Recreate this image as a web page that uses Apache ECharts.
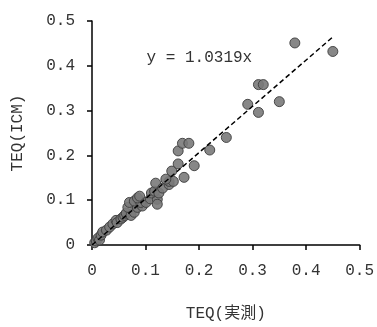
<!DOCTYPE html>
<html>
<head>
<meta charset="utf-8">
<script src="https://cdn.jsdelivr.net/npm/echarts@6/dist/echarts.min.js"></script>
<style>
  html, body { margin: 0; padding: 0; background: #fff; }
  #chart { width: 377px; height: 327px; }
</style>
</head>
<body>
<div id="chart"></div>
<script>
// 実測 vs ICM の TEQ
const measured = [0.005, 0.008, 0.011, 0.014, 0.017, 0.020, 0.027, 0.033, 0.039, 0.045,
  0.047, 0.054, 0.058, 0.061, 0.064, 0.073, 0.079, 0.067, 0.085, 0.094,
  0.070, 0.079, 0.091, 0.085, 0.089, 0.101, 0.109, 0.122, 0.122, 0.111,
  0.117, 0.125, 0.119, 0.132, 0.144, 0.144, 0.152, 0.138, 0.149, 0.172,
  0.161, 0.191, 0.161, 0.169, 0.181, 0.220, 0.251, 0.291, 0.311, 0.311,
  0.320, 0.350, 0.379, 0.450]
const icm = [0.005, 0.009, 0.015, 0.011, 0.022, 0.029, 0.033, 0.040, 0.047, 0.055,
  0.050, 0.058, 0.062, 0.066, 0.071, 0.066, 0.073, 0.084, 0.084, 0.087,
  0.095, 0.098, 0.095, 0.105, 0.109, 0.095, 0.103, 0.102, 0.091, 0.116,
  0.120, 0.116, 0.138, 0.127, 0.135, 0.142, 0.142, 0.147, 0.165, 0.151,
  0.181, 0.177, 0.210, 0.227, 0.227, 0.212, 0.240, 0.314, 0.296, 0.358,
  0.358, 0.320, 0.451, 0.432]
const slope = 1.0319
const trendX = [0, 0.45]
const axisTicks = [0, 0.1, 0.2, 0.3, 0.4, 0.5]
const equationText = "y = 1.0319x"
const equationAt = [0.102, 0.419]

const points = measured.map((x, i) => [x, icm[i]])
const trend = trendX.map(x => [x, x * slope])

const font = "'Liberation Mono', 'Noto Sans CJK JP', monospace"
const axisCommon = {
  type: "value",
  min: 0,
  max: 0.5,
  interval: 0.1,
  splitLine: { show: false },
  axisLine: { show: true, onZero: false, lineStyle: { color: "#000", width: 1.5 } },
  axisTick: { show: true, inside: false, length: 5, lineStyle: { color: "#000", width: 1.5 } },
  nameLocation: "middle",
  nameTextStyle: { fontFamily: font, fontSize: 16, color: "#333" }
}

const myChart = echarts.init(document.getElementById("chart"), null, { renderer: "canvas" })
myChart.setOption({
  animation: false,
  grid: { left: 92, right: 15, top: 21, bottom: 77 },
  xAxis: {
    ...axisCommon,
    name: "TEQ(実測)",
    nameGap: 61,
    axisLabel: {
      margin: 18, fontFamily: font, fontSize: 16, color: "#333",
      formatter: v => axisTicks.includes(+v.toFixed(1)) ? String(+v.toFixed(1)) : ""
    }
  },
  yAxis: {
    ...axisCommon,
    name: "TEQ(ICM)",
    nameGap: 66,
    axisLabel: {
      margin: 17, fontFamily: font, fontSize: 16, color: "#333",
      formatter: v => String(+v.toFixed(1))
    }
  },
  series: [
    {
      type: "line",
      data: trend,
      symbol: "none",
      lineStyle: { color: "#000", width: 1.5, type: [5, 3] },
      z: 3
    },
    {
      type: "scatter",
      data: points,
      symbol: "circle",
      symbolSize: 10,
      itemStyle: { color: "#7a7a7a", borderColor: "#3c3c3c", borderWidth: 1, opacity: 0.9 },
      z: 2
    }
  ]
})

const pos = myChart.convertToPixel({ gridIndex: 0 }, equationAt)
myChart.setOption({
  graphic: [{
    type: "text",
    x: pos[0],
    y: pos[1],
    style: {
      text: equationText,
      fontFamily: font,
      fontSize: 16,
      fill: "#333",
      verticalAlign: "middle",
      align: "left"
    }
  }]
})
</script>
</body>
</html>
